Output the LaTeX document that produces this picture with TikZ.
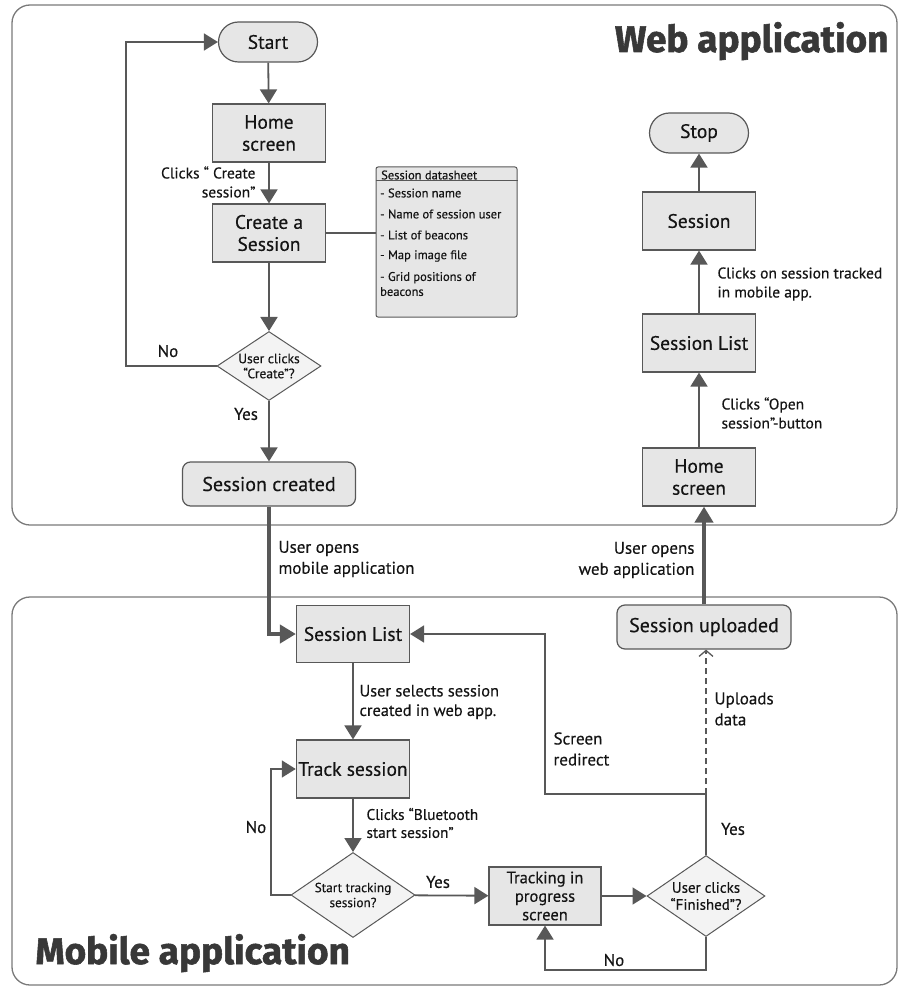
\documentclass[tikz,border=0pt]{standalone}
\usepackage{fontspec}
\setmainfont{PT Sans}[FakeBold=0.35]
\newfontfamily\titlefont{Fira Sans}[BoldFeatures={FakeBold=1.5}]
\usetikzlibrary{arrows.meta,shapes.geometric,calc}
\definecolor{ink}{HTML}{141414}
\definecolor{edge}{HTML}{585858}
\definecolor{boxfill}{HTML}{E6E6E6}
\definecolor{diafill}{HTML}{F3F3F3}
\definecolor{panel}{HTML}{7A7A7A}
\definecolor{titlegray}{HTML}{383838}
\begin{document}
\begin{tikzpicture}[x=1pt,y=-1pt,
  every node/.style={text=ink},
  panelbox/.style={draw=panel,line width=1.3pt,rounded corners=18pt},
  stepbox/.style={draw=edge,fill=boxfill,line width=1.2pt,minimum width=113pt,minimum height=58pt,align=center,font=\fontsize{19.5}{22}\selectfont,inner sep=2pt},
  pill/.style={draw=edge,fill=boxfill,line width=1.2pt,rounded corners=20pt,minimum width=99pt,minimum height=40pt,font=\fontsize{19.5}{22}\selectfont},
  endbox/.style={draw=edge,fill=boxfill,line width=1.2pt,rounded corners=8pt,minimum height=44pt,font=\fontsize{20}{24}\selectfont},
  decision/.style={draw=edge,fill=diafill,line width=1pt,shape=diamond,aspect=1.5,inner sep=0pt,align=center},
  conn/.style={draw=edge,line width=1.8pt,-{Triangle[length=14pt,width=17pt]}},
  plain/.style={draw=edge,line width=1.8pt},
  bigconn/.style={draw=edge,line width=4.5pt,-{Triangle[length=16pt,width=18pt]}},
  upload/.style={draw=edge,line width=1.1pt,dash pattern=on 6pt off 4pt,-{Straight Barb[length=6pt,width=14pt,line width=1.3pt]}},
  lbl/.style={font=\fontsize{15.5}{19}\selectfont,align=left},
  biglbl/.style={font=\fontsize{17}{21}\selectfont,align=left},
  item/.style={anchor=west,font=\fontsize{12.5}{15}\selectfont,align=left,inner sep=0pt},
  title/.style={font=\titlefont\bfseries\fontsize{37}{40}\selectfont,text=titlegray},
]
\useasboundingbox (0,0) rectangle (899,987);

% application panels
\draw[panelbox] (12,5) rectangle (897,525);
\draw[panelbox] (12,597) rectangle (897,985);
\node[title,anchor=base east] (webtitle) at (892,52) {Web application};
\node[title,anchor=base west] (mobtitle) at (32,964) {Mobile application};

% web application: creating a session
\node[pill] (start) at (268,42) {Start};
\node[stepbox] (home) at (269,133) {Home\\screen};
\node[stepbox] (create) at (269,233) {Create a\\Session};
\node[decision,font=\fontsize{13.5}{15}\selectfont,minimum width=104pt,minimum height=69pt] (dcreate) at (269,366) {User clicks\\“Create”?};
\node[endbox,minimum width=173pt] (created) at (269,484) {Session created};
\coordinate (loopA) at (126,366);

\draw[conn] (start) -- (home);
\draw[conn] (home) -- (create);
\node[lbl,align=right,anchor=east] (clickcreate) at (259,182) {Clicks “ Create\\session”};
\draw[conn] (create) -- (dcreate);
\draw[conn] (dcreate) -- (created);
\node[biglbl] (yes1) at (246,414) {Yes};
\draw[conn] (dcreate.west) -- (loopA) |- (start.west);
\node[biglbl] (no1) at (168,351) {No};

% session datasheet
\node[draw=edge,fill=boxfill,line width=1pt,rounded corners=2pt,minimum width=141pt,minimum height=150pt] (sheet) at (446.5,242) {};
\node[item] (sheethead) at (381,175) {Session datasheet};
\draw[draw=edge,line width=0.8pt] ($(sheet.north west)+(0,14)$) -- ($(sheet.north east)+(0,14)$);
\node[item] (it1) at (380,193) {- Session name};
\node[item] (it2) at (380,214) {- Name of session user};
\node[item] (it3) at (380,235) {- List of beacons};
\node[item] (it4) at (380,256) {- Map image file};
\node[item] (it5) at (380,284) {- Grid positions of\\beacons};
\draw[plain,line width=1.2pt] (create.east) -- (create.east -| sheet.west);

% web application: viewing a session
\node[pill] (stop) at (699,133) {Stop};
\node[stepbox] (sess) at (699,221) {Session};
\node[stepbox] (wlist) at (699,343) {Session List};
\node[stepbox] (whome) at (699,477) {Home\\screen};
\draw[conn] (sess) -- (stop);
\draw[conn] (wlist) -- (sess);
\node[lbl,anchor=west] (clicktracked) at (714,284) {Clicks on session tracked\\in mobile app.};
\draw[conn] (whome) -- (wlist);
\node[lbl,anchor=west] (clickopen) at (718,413) {Clicks “Open\\session”-button};

% mobile application
\node[endbox,minimum width=174pt] (uploaded) at (704,627) {Session uploaded};
\node[stepbox,minimum height=57pt] (mlist) at (353,634) {Session List};
\node[stepbox] (track) at (353,769) {Track session};
\node[decision,font=\fontsize{13.2}{15}\selectfont,minimum width=124pt,minimum height=85pt] (dstart) at (353,895) {Start tracking\\session?};
\node[stepbox,minimum width=112pt,font=\fontsize{16.5}{18.5}\selectfont] (prog) at (545,896) {Tracking in\\progress\\screen};
\node[decision,font=\fontsize{15}{17}\selectfont,minimum width=118pt,minimum height=81pt] (dfin) at (706,896) {User clicks\\“Finished”?};
\coordinate (loopB) at (271,895);
\coordinate (loopC) at (706,970);
\coordinate (jn) at (706,794);
\coordinate (rd) at (545,794);

% crossing between the applications
\draw[bigconn] (created.south) |- (mlist.west);
\node[biglbl,anchor=west] (opensmob) at (275,559) {User opens\\mobile application};
\draw[bigconn] (uploaded.north) -- (uploaded.north |- whome.south);
\node[biglbl,anchor=east,align=right] (opensweb) at (698,560) {User opens\\web application};

\draw[conn] (mlist) -- (track);
\node[lbl,anchor=west,font=\fontsize{16.4}{19.5}\selectfont] (selects) at (356,702) {User selects session\\created in web app.};
\draw[conn] (track) -- (dstart);
\node[lbl,anchor=west,font=\fontsize{15.3}{18}\selectfont] (bluetooth) at (363,823) {Clicks “Bluetooth\\start session”};
\draw[conn] (dstart.west) -- (loopB) |- (track.west);
\node[biglbl] (no2) at (256,827) {No};
\draw[conn] (dstart) -- (prog);
\node[biglbl] (yes2) at (438,882) {Yes};
\draw[conn] (prog) -- (dfin);
\draw[conn] (dfin.south) -- (loopC) -| (prog.south);
\node[biglbl] (no3) at (614,960) {No};
\draw[conn] (dfin.north) -- (jn) -- (rd) |- (mlist.east);
\node[biglbl] (yes3) at (733,829) {Yes};
\node[biglbl,anchor=west] (redirect) at (550,749) {Screen\\redirect};
\draw[upload] (jn) -- (jn |- uploaded.south);
\node[biglbl,anchor=west] (uploads) at (711,709) {Uploads\\data};
\end{tikzpicture}
\end{document}
